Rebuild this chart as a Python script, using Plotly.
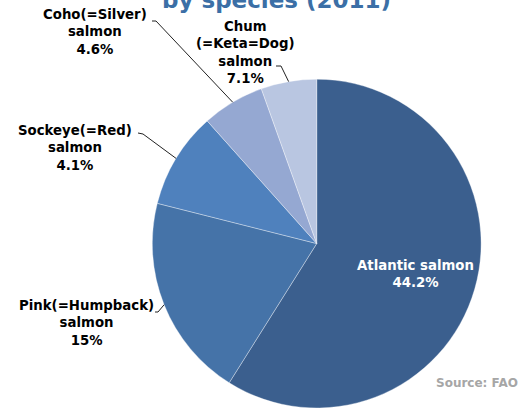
import math
import plotly.graph_objects as go

# ---- data ----
categories = ["Atlantic salmon", "Pink(=Humpback) salmon", "Sockeye(=Red) salmon",
              "Coho(=Silver) salmon", "Chum(=Keta=Dog) salmon"]
slice_values = [44.2, 15, 7.1, 4.6, 4.1]          # sizes of the drawn slices
label_names = ["Atlantic salmon", "Pink(=Humpback)<br>salmon", "Sockeye(=Red)<br>salmon",
               "Coho(=Silver)<br>salmon", "Chum<br>(=Keta=Dog)<br>salmon"]
label_pcts = ["44.2%", "15%", "4.1%", "4.6%", "7.1%"]   # percentages printed on the chart
colors = ["#3B5F8E", "#4573A8", "#4F81BD", "#95A8D2", "#B9C6E1"]

W, H = 525, 408
dom_x = [0.2901, 0.9164]
dom_y = [0.0, 0.806]

fig = go.Figure(go.Pie(
    labels=categories, values=slice_values, sort=False, direction="clockwise",
    rotation=0, textinfo="none", hoverinfo="label+percent",
    marker=dict(colors=colors, line=dict(color="rgba(255,255,255,0.35)", width=1)),
    domain=dict(x=dom_x, y=dom_y), showlegend=False,
))

# geometry of the pie (pixels) for leader-line end points
cx = (dom_x[0] + dom_x[1]) / 2 * W
cy = (1 - (dom_y[0] + dom_y[1]) / 2) * H
r = min((dom_x[1] - dom_x[0]) * W, (dom_y[1] - dom_y[0]) * H) / 2
total = sum(slice_values)
mids = []
acc = 0
for v in slice_values:
    mids.append((acc + v / 2) / total * 2 * math.pi)
    acc += v

def px(x, y):
    return x / W, 1 - y / H

font_lbl = dict(family="DejaVu Sans", size=13.3, color="black")
# label placement (pixel centres) and leader-line elbows
label_pos = {1: (86, 323), 2: (75, 147.5), 3: (95, 32.5), 4: (245, 53)}
elbows = {1: [(155, 312), (158, 312)], 2: [(138, 133), (143, 134)],
          3: [(152, 21), (156, 21)], 4: [(276, 66), (281, 66)]}

annotations = []
shapes = []
for i in range(1, 5):
    x, y = px(*label_pos[i])
    annotations.append(dict(text=f"<b>{label_names[i]}<br>{label_pcts[i]}</b>", x=x, y=y,
                            xref="paper", yref="paper", showarrow=False, align="center",
                            xanchor="center", yanchor="middle", font=font_lbl))
    ex = cx + r * 1.0 * math.sin(mids[i])
    ey = cy - r * 1.0 * math.cos(mids[i])
    pts = elbows[i] + [(ex, ey)]
    path = "M " + " L ".join(f"{px(a, b)[0]},{px(a, b)[1]}" for a, b in pts)
    shapes.append(dict(type="path", path=path, xref="paper", yref="paper",
                       line=dict(color="#222222", width=1)))

x, y = px(415, 273.5)
annotations.append(dict(text=f"<b>{label_names[0]}<br>{label_pcts[0]}</b>", x=x, y=y,
                        xref="paper", yref="paper", showarrow=False, align="center",
                        xanchor="center", yanchor="middle",
                        font=dict(family="DejaVu Sans", size=13.3, color="white")))
x, y = px(476.5, 383)
annotations.append(dict(text="<b>Source: FAO</b>", x=x, y=y, xref="paper", yref="paper",
                        showarrow=False, xanchor="center", yanchor="middle",
                        font=dict(family="DejaVu Sans", size=12, color="#A6A6A6")))
x, y = px(276.5, 0)
annotations.append(dict(text="<b>by species (2011)</b>", x=x, y=y, xref="paper", yref="paper",
                        showarrow=False, xanchor="center", yanchor="middle",
                        font=dict(family="DejaVu Sans", size=23, color="#3B6FA6")))

fig.update_layout(width=W, height=H, margin=dict(l=0, r=0, t=0, b=0),
                  paper_bgcolor="white", plot_bgcolor="white",
                  annotations=annotations, shapes=shapes)
fig.write_html("out.html", config={"displayModeBar": False},
               post_script="document.body.style.margin='0';")
